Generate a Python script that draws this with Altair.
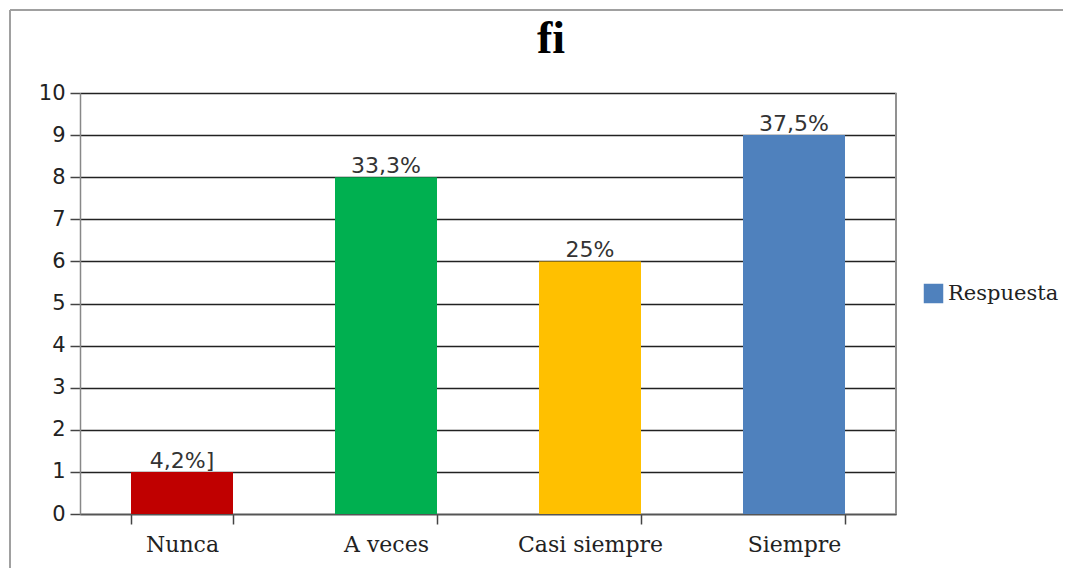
import altair as alt
import pandas as pd

categorias = ["Nunca", "A veces", "Casi siempre", "Siempre"]
valores = [1, 8, 6, 9]
etiquetas = ["4,2%]", "33,3%", "25%", "37,5%"]
colores = ["#C00000", "#00B050", "#FFC000", "#4F81BD"]

df = pd.DataFrame({"cat": categorias, "fi": valores, "pct": etiquetas})

x = alt.X("cat:N", sort=categorias, title=None,
          scale=alt.Scale(paddingInner=0.5, paddingOuter=0.25),
          axis=alt.Axis(labelAngle=0, labelFont="DejaVu Serif", labelFontSize=22,
                        labelColor="#222", tickBand="extent", tickSize=10,
                        tickColor="#444", tickWidth=1.5, domainColor="#555",
                        domainWidth=1.5, labelPadding=10, grid=False))
y = alt.Y("fi:Q", title=None,
          scale=alt.Scale(domain=[0, 10], nice=False),
          axis=alt.Axis(values=list(range(11)), labelFont="DejaVu Sans",
                        labelFontSize=21, labelColor="#222", tickSize=10,
                        tickColor="#444", tickWidth=1.5, labelPadding=5,
                        domainColor="#888", domainWidth=1.5, grid=True,
                        gridColor="#222", gridWidth=1.5))

bars = alt.Chart(df).mark_bar().encode(
    x=x, y=y,
    color=alt.Color("cat:N", sort=categorias,
                    scale=alt.Scale(domain=categorias, range=colores),
                    legend=alt.Legend(title=None, values=["Siempre"],
                                      labelExpr="'Respuesta'", orient="none",
                                      legendX=843, legendY=190, symbolType="square",
                                      symbolSize=380, symbolStrokeWidth=0,
                                      labelFont="DejaVu Serif", labelFontSize=21,
                                      labelColor="#222", labelOffset=4, padding=0)),
)

texts = alt.Chart(df).mark_text(
    baseline="alphabetic", dy=-4, font="DejaVu Sans", fontSize=22, color="#333"
).encode(x=alt.X("cat:N", sort=categorias), y="fi:Q", text="pct:N")

frame_top = alt.Chart(df).mark_rule(color="#a0a0a0", strokeWidth=2).encode(
    x=alt.value(-70), x2=alt.value(1100), y=alt.value(-83))
frame_left = alt.Chart(df).mark_rule(color="#a0a0a0", strokeWidth=2).encode(
    x=alt.value(-70), y=alt.value(-83), y2=alt.value(600))
frame_right = alt.Chart(df).mark_rule(color="#909090", strokeWidth=1.5).encode(
    x=alt.value(816), y=alt.value(0), y2=alt.value(421))

chart = alt.layer(frame_top, frame_left, bars, texts, frame_right).properties(
    width=816, height=421,
    autosize=alt.AutoSizeParams(type="none"),
    padding={"left": 72, "top": 85, "right": 167, "bottom": 54},
    title=alt.Title("fi", font="Liberation Serif", fontSize=46, fontWeight="bold",
                    color="#000", anchor="middle", dx=63, dy=58),
).configure_view(stroke=None)

chart.save("out.html", embed_options={"renderer": "svg", "actions": False})
